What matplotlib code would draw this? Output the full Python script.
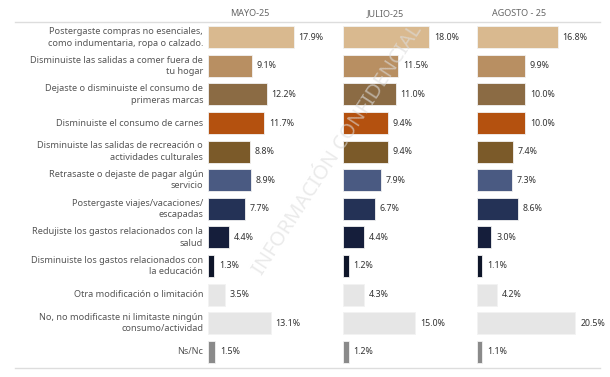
import matplotlib.pyplot as plt

categories = [
    'Postergaste compras no esenciales,\ncomo indumentaria, ropa o calzado.',
    'Disminuiste las salidas a comer fuera de\ntu hogar',
    'Dejaste o disminuiste el consumo de\nprimeras marcas',
    'Disminuiste el consumo de carnes',
    'Disminuiste las salidas de recreación o\nactividades culturales',
    'Retrasaste o dejaste de pagar algún\nservicio',
    'Postergaste viajes/vacaciones/\nescapadas',
    'Redujiste los gastos relacionados con la\nsalud',
    'Disminuiste los gastos relacionados con\nla educación',
    'Otra modificación o limitación',
    'No, no modificaste ni limitaste ningún\nconsumo/actividad',
    'Ns/Nc',
]
periods = ['MAYO-25', 'JULIO-25', 'AGOSTO - 25']
mayo = [17.9, 9.1, 12.2, 11.7, 8.8, 8.9, 7.7, 4.4, 1.3, 3.5, 13.1, 1.5]
julio = [18.0, 11.5, 11.0, 9.4, 9.4, 7.9, 6.7, 4.4, 1.2, 4.3, 15.0, 1.2]
agosto = [16.8, 9.9, 10.0, 10.0, 7.4, 7.3, 8.6, 3.0, 1.1, 4.2, 20.5, 1.1]
colors = ['#D9B98F', '#B88F62', '#8B6B44', '#B4510F', '#7B5A29', '#4A5A82',
          '#243256', '#151E3B', '#0E1529', '#E6E6E6', '#E6E6E6', '#8A8A8A']

W, H = 610, 377
fig = plt.figure(figsize=(6.1, 3.77), dpi=100)
plt.rcParams['font.family'] = ['Noto Sans', 'DejaVu Sans']

px_per_pct = 4.8
top, bottom = 23, 366
starts = [208, 343, 477]
panel_w = 130
n = len(categories)
ys = list(range(n))

# watermark
fig.text(338 / W, 1 - 150 / H, 'INFORMACIÓN CONFIDENCIAL', rotation=57, ha='center',
         va='center', fontsize=14.5, color='#DDDDDD', alpha=0.6, zorder=0)

for i, (name, vals) in enumerate(zip(periods, [mayo, julio, agosto])):
    ax = fig.add_axes([starts[i] / W, 1 - bottom / H, panel_w / W, (bottom - top) / H])
    ax.patch.set_alpha(0)
    ax.barh(ys, vals, height=0.77, color=colors, edgecolor='#F2F2F2', linewidth=0.6)
    for y, v in zip(ys, vals):
        ax.text(v + 1.0, y, f'{v:.1f}%', va='center', ha='left', fontsize=6.4,
                fontweight='bold', color='#333333')
    ax.set_xlim(0, panel_w / px_per_pct)
    ax.set_ylim(n - 0.5, -0.5)
    ax.axis('off')
    fig.text((starts[i] + 42) / W, 1 - 14 / H, name, ha='center', va='center',
             fontsize=6.5, color='#666666')
    if i == 0:
        for y, c in zip(ys, categories):
            ax.text(-1.0, y, c, ha='right', va='center', fontsize=6.6,
                    color='#555555', linespacing=1.35)

# header and footer rules
fig.add_artist(plt.Line2D([15 / W, 600 / W], [1 - 22 / H, 1 - 22 / H], color='#DDDDDD', lw=1))
fig.add_artist(plt.Line2D([15 / W, 600 / W], [1 - 368 / H, 1 - 368 / H], color='#DDDDDD', lw=1))

fig.savefig('out.png', dpi=100)
